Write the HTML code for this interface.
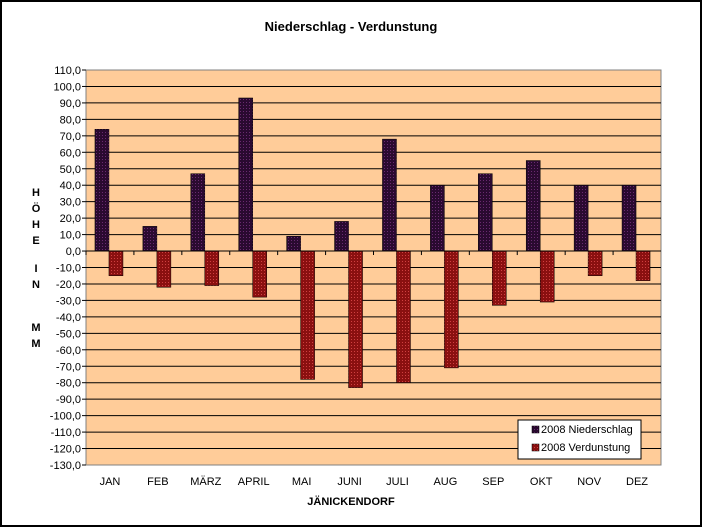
<!DOCTYPE html>
<html><head><meta charset="utf-8"><style>
body{margin:0;background:#fff}
svg{display:block;font-family:"Liberation Sans",Arial,sans-serif}
</style></head><body>
<svg width="703" height="528">
<defs>
<pattern id="pN" width="3" height="3" patternUnits="userSpaceOnUse"><rect width="3" height="3" fill="#2a0a30"/><rect width="1" height="1" fill="#6a2a70"/></pattern>
<pattern id="pV" width="3" height="3" patternUnits="userSpaceOnUse"><rect width="3" height="3" fill="#8a1010"/><rect width="1" height="1" fill="#d04040"/></pattern>
</defs>
<rect x="1" y="1" width="700" height="525" fill="#fff" stroke="#000" stroke-width="2"/>
<text x="351" y="31" text-anchor="middle" font-size="13" font-weight="bold">Niederschlag  -  Verdunstung</text>
<rect x="86" y="70" width="575" height="395" fill="#ffcc99" stroke="#808080"/>
<g id="grid"></g><g id="bars"></g><g id="ticks"></g>
<text x="351" y="505" text-anchor="middle" font-size="11" font-weight="bold">JÄNICKENDORF</text>
<g font-size="11" font-weight="bold" text-anchor="middle">
<text x="36" y="196">H</text><text x="36" y="212">Ö</text><text x="36" y="228">H</text><text x="36" y="244">E</text>
<text x="36" y="272">I</text><text x="36" y="288">N</text>
<text x="36" y="331">M</text><text x="36" y="347">M</text>
</g>
<g>
<rect x="518" y="420" width="123" height="39" fill="#fff" stroke="#000"/>
<rect x="532" y="426" width="7" height="7" fill="url(#pN)" stroke="#000" stroke-width="0.5"/>
<text x="541" y="433" font-size="11">2008 Niederschlag</text>
<rect x="532" y="444" width="7" height="7" fill="url(#pV)" stroke="#000" stroke-width="0.5"/>
<text x="541" y="451" font-size="11">2008 Verdunstung</text>
</g>
</svg>
<script>
const categories=["JAN","FEB","MÄRZ","APRIL","MAI","JUNI","JULI","AUG","SEP","OKT","NOV","DEZ"];
const niederschlag=[74,15,47,93,9,18,68,40,47,55,40,40];
const verdunstung=[-15,-22,-21,-28,-78,-83,-80,-71,-33,-31,-15,-18];
const yTicks=[110,100,90,80,70,60,50,40,30,20,10,0,-10,-20,-30,-40,-50,-60,-70,-80,-90,-100,-110,-120,-130];
const NS="http://www.w3.org/2000/svg";
const L=86,R=661,T=70,B=465,yMax=110,yMin=-130;
const y=v=>T+(yMax-v)/(yMax-yMin)*(B-T);
const cw=(R-L)/categories.length;
const xc=i=>L+cw*(i+0.5);
function mk(t,a,p){const e=document.createElementNS(NS,t);for(const k in a)e.setAttribute(k,a[k]);p.appendChild(e);return e;}
const g=document.getElementById('grid'),bg=document.getElementById('bars'),tg=document.getElementById('ticks');
yTicks.forEach(v=>{
 if(v!==yMax&&v!==yMin){const l=mk('line',{x1:L,x2:R,y1:y(v),y2:y(v),stroke:'#000'},g);
 
 }
 const t=mk('text',{x:L-5,y:y(v)+4,'text-anchor':'end','font-size':11},tg);
 t.textContent=v.toFixed(1).replace('.',',');
 
 
 mk('line',{x1:L-4,x2:L,y1:y(v),y2:y(v),stroke:'#000'},tg);
});
categories.forEach((c,i)=>{
 const n=niederschlag[i],v=verdunstung[i];
 const b1=mk('rect',{x:xc(i)-15,y:y(Math.max(n,0)),width:14,height:Math.abs(y(n)-y(0)),fill:'url(#pN)',stroke:'#000','stroke-width':0.5},bg);
 
 
 const b2=mk('rect',{x:xc(i)-1,y:y(Math.max(v,0)),width:14,height:Math.abs(y(v)-y(0)),fill:'url(#pV)',stroke:'#000','stroke-width':0.5},bg);
 
 
 mk('line',{x1:L+cw*i,x2:L+cw*i,y1:y(0),y2:y(0)+4,stroke:'#000'},tg);
 const t=mk('text',{x:xc(i),y:485,'text-anchor':'middle','font-size':11},tg);
 t.textContent=c;
 
 
});
mk('line',{x1:L,x2:R,y1:y(0),y2:y(0),stroke:'#000'},tg);
</script>
</body></html>
